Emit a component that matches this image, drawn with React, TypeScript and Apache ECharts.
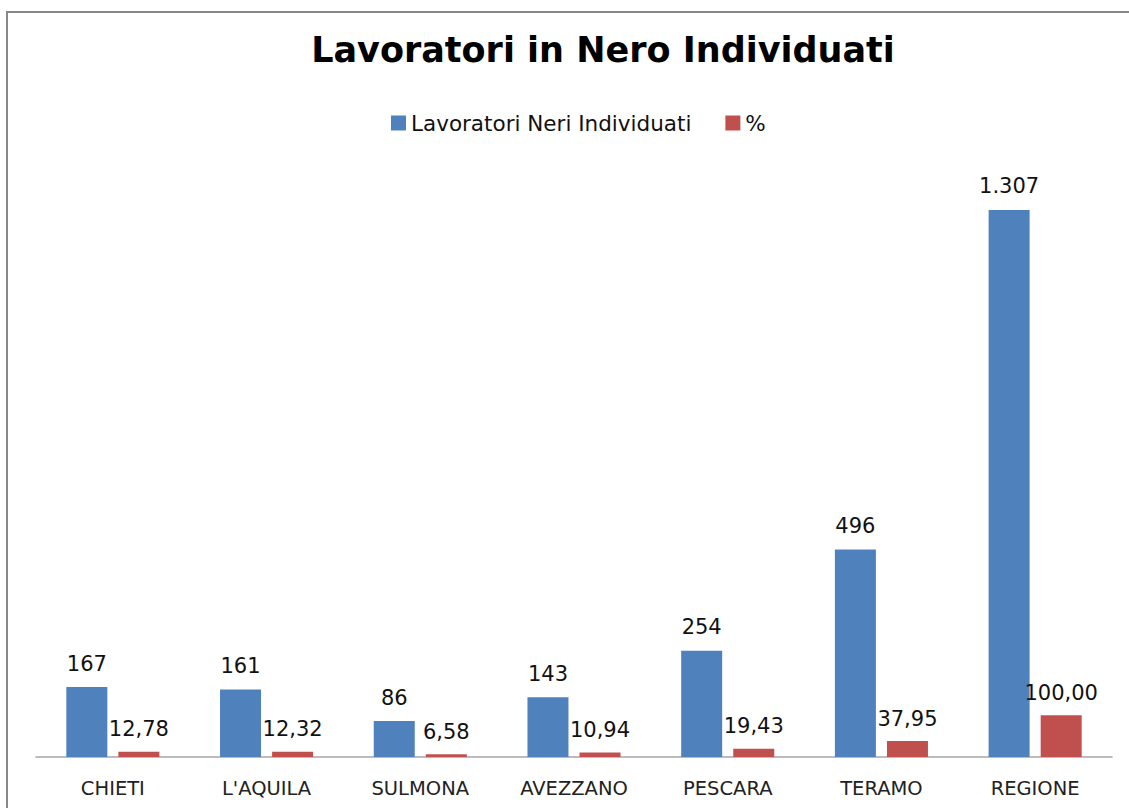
import React, { useEffect, useRef } from "react";
import * as echarts from "echarts";

const categories = ["CHIETI", "L'AQUILA", "SULMONA", "AVEZZANO", "PESCARA", "TERAMO", "REGIONE"];
const workers = [167, 161, 86, 143, 254, 496, 1307];
const percents = [12.78, 12.32, 6.58, 10.94, 19.43, 37.95, 100.0];
const seriesNames = ["Lavoratori Neri Individuati", "%"];
const titleText = "Lavoratori in Nero Individuati";

const FONT = "DejaVu Sans";

const fmtThousands = (v: number) => String(v).replace(/\B(?=(\d{3})+(?!\d))/g, ".");
const fmtPercent = (v: number) => v.toFixed(2).replace(".", ",");

export default function App() {
  const ref = useRef<HTMLDivElement>(null);
  useEffect(() => {
    document.body.style.margin = "0";
    const chart = echarts.init(ref.current!, null, { renderer: "svg" });
    chart.setOption({
      animation: false,
      backgroundColor: "#ffffff",
      title: {
        text: titleText,
        left: 598,
        top: 27,
        textAlign: "center",
        textStyle: { fontFamily: FONT, fontWeight: "bold", fontSize: 35, color: "#000" },
      },
      legend: {
        left: 391,
        top: 112,
        padding: 0,
        itemWidth: 15,
        itemHeight: 15,
        itemGap: 34,
        icon: "rect",
        textStyle: { fontFamily: FONT, fontSize: 21.5, color: "#111" },
        data: seriesNames,
      },
      graphic: [
        {
          type: "rect",
          shape: { x: 7, y: 12, width: 1140, height: 820 },
          style: { fill: "none", stroke: "#888888", lineWidth: 2 },
          silent: true,
        },
      ],
      grid: { left: 36, right: 17, top: 171, bottom: 51 },
      xAxis: {
        type: "category",
        data: categories,
        axisLine: { lineStyle: { color: "#a6a6a6", width: 1.5 } },
        axisTick: { show: false },
        axisLabel: { fontFamily: FONT, fontSize: 19.5, color: "#222", margin: 21 },
      },
      yAxis: {
        type: "value",
        min: 0,
        max: 1400,
        show: false,
        splitLine: { show: false },
      },
      series: [
        {
          name: seriesNames[0],
          type: "bar",
          data: workers,
          barWidth: 41,
          barGap: "27%",
          itemStyle: { color: "#4F81BD" },
          label: {
            show: true,
            position: "top",
            distance: 13,
            fontFamily: FONT,
            fontSize: 21,
            color: "#111",
            formatter: (p: any) => fmtThousands(p.value),
          },
        },
        {
          name: seriesNames[1],
          type: "bar",
          data: percents,
          barWidth: 41,
          barGap: "27%",
          itemStyle: { color: "#C0504D" },
          label: {
            show: true,
            position: "top",
            distance: 12,
            fontFamily: FONT,
            fontSize: 21,
            color: "#111",
            formatter: (p: any) => fmtPercent(p.value),
          },
        },
      ],
    });
    return () => chart.dispose();
  }, []);
  return <div ref={ref} style={{ width: 1129, height: 808 }} />;
}
